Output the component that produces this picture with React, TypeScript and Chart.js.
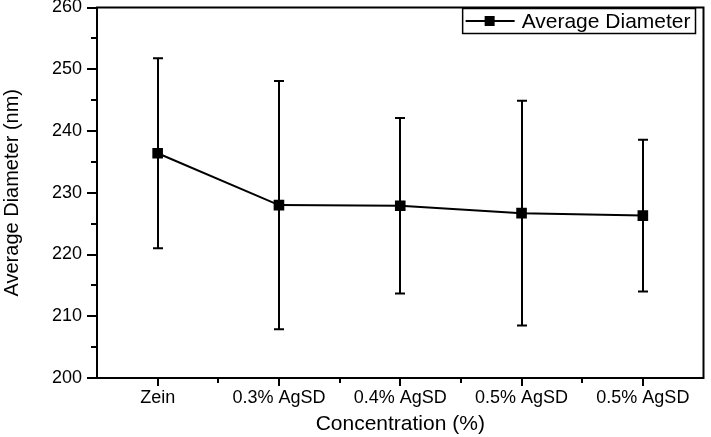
import React, { useEffect, useRef } from "react";
import { Chart, registerables } from "chart.js";

Chart.register(...registerables);

const categories = ["Zein", "0.3% AgSD", "0.4% AgSD", "0.5% AgSD", "0.5% AgSD"];
const meanDiameter = [236.4, 228.0, 227.9, 226.7, 226.3];
const sdDiameter = [15.4, 20.1, 14.2, 18.2, 12.3];
const yMin = 200;
const yMax = 260;
const yMajorStep = 10;
const yMinorStep = 5;
const seriesLabel = "Average Diameter";
const xTitle = "Concentration (%)";
const yTitle = "Average Diameter (nm)";

const FONT = "'Liberation Sans', Arial, sans-serif";

const decorPlugin = {
  id: "decor",
  beforeDatasetsDraw(chart: any) {
    const ctx = chart.ctx;
    const x = chart.scales.x;
    const y = chart.scales.y;
    ctx.save();
    ctx.strokeStyle = "#000";
    ctx.lineWidth = 2;
    meanDiameter.forEach((m, i) => {
      const px = Math.round(x.getPixelForValue(i));
      const top = y.getPixelForValue(m + sdDiameter[i]);
      const bot = y.getPixelForValue(m - sdDiameter[i]);
      ctx.beginPath();
      ctx.moveTo(px, top);
      ctx.lineTo(px, bot);
      ctx.moveTo(px - 5, top);
      ctx.lineTo(px + 5, top);
      ctx.moveTo(px - 5, bot);
      ctx.lineTo(px + 5, bot);
      ctx.stroke();
    });
    ctx.restore();
  },
  afterDraw(chart: any) {
    const ctx = chart.ctx;
    const { left, right, top, bottom } = chart.chartArea;
    const x = chart.scales.x;
    const y = chart.scales.y;
    ctx.save();
    ctx.strokeStyle = "#000";
    ctx.lineWidth = 2;
    ctx.strokeRect(left, top, right - left, bottom - top);
    ctx.beginPath();
    for (let v = yMin; v <= yMax; v += yMinorStep) {
      const py = Math.round(y.getPixelForValue(v));
      const len = v % yMajorStep === 0 ? 10 : 6;
      ctx.moveTo(left - len, py);
      ctx.lineTo(left, py);
    }
    for (let i = 0; i < categories.length; i++) {
      const px = Math.round(x.getPixelForValue(i));
      ctx.moveTo(px, bottom);
      ctx.lineTo(px, bottom + 8);
    }
    const w = (right - left) / categories.length;
    for (let i = 1; i < categories.length; i++) {
      const px = Math.round(left + w * i);
      ctx.moveTo(px, bottom);
      ctx.lineTo(px, bottom + 5);
    }
    ctx.stroke();

    // legend
    ctx.font = `21px ${FONT}`;
    const tw = ctx.measureText(seriesLabel).width;
    const boxRight = right - 8;
    const boxLeft = boxRight - tw - 64;
    const boxTop = top + 1;
    const boxH = 25;
    ctx.lineWidth = 1.5;
    ctx.strokeRect(boxLeft, boxTop, boxRight - boxLeft, boxH);
    const cy = boxTop + boxH / 2;
    ctx.lineWidth = 2;
    ctx.beginPath();
    ctx.moveTo(boxLeft + 3, cy);
    ctx.lineTo(boxLeft + 52, cy);
    ctx.stroke();
    ctx.fillStyle = "#000";
    ctx.fillRect(boxLeft + 22, cy - 5, 10, 10);
    ctx.textBaseline = "middle";
    ctx.textAlign = "left";
    ctx.fillText(seriesLabel, boxLeft + 59, cy + 1);
    ctx.restore();
  },
};

export default function App() {
  const ref = useRef<HTMLCanvasElement>(null);
  useEffect(() => {
    if (!ref.current) return;
    const chart = new Chart(ref.current, {
      type: "line",
      data: {
        labels: categories,
        datasets: [
          {
            label: seriesLabel,
            data: meanDiameter,
            borderColor: "#000",
            backgroundColor: "#000",
            borderWidth: 2,
            pointStyle: "rect",
            pointRadius: 7.5,
            pointBorderWidth: 0,
            pointBackgroundColor: "#000",
            tension: 0,
            fill: false,
          },
        ],
      },
      options: {
        animation: false,
        responsive: true,
        maintainAspectRatio: false,
        layout: { padding: { top: 7, right: 3, left: 0, bottom: 0 } },
        plugins: {
          legend: { display: false },
          tooltip: { enabled: false },
        },
        scales: {
          x: {
            type: "category",
            offset: true,
            grid: { display: false, drawTicks: false },
            border: { display: false },
            ticks: {
              color: "#000",
              font: { family: FONT, size: 18 },
              padding: 9,
              maxRotation: 0,
              autoSkip: false,
            },
            title: {
              display: true,
              text: xTitle,
              color: "#000",
              font: { family: FONT, size: 21 },
              padding: 0,
            },
            afterFit: (s: any) => {
              s.height = 59;
              s.paddingLeft = 0;
              s.paddingRight = 0;
            },
          },
          y: {
            min: yMin,
            max: yMax,
            grid: { display: false, drawTicks: false },
            border: { display: false },
            ticks: {
              stepSize: yMajorStep,
              color: "#000",
              font: { family: FONT, size: 18 },
              padding: 15,
            },
            title: {
              display: true,
              text: yTitle,
              color: "#000",
              font: { family: FONT, size: 20 },
              padding: 0,
            },
            afterFit: (s: any) => {
              s.width = 97;
              s.paddingTop = 0;
              s.paddingBottom = 0;
            },
          },
        },
      },
      plugins: [decorPlugin],
    });
    return () => chart.destroy();
  }, []);
  return (
    <div style={{ position: "fixed", left: 0, top: 0, width: 711, height: 437, background: "#fff" }}>
      <canvas ref={ref} />
    </div>
  );
}
